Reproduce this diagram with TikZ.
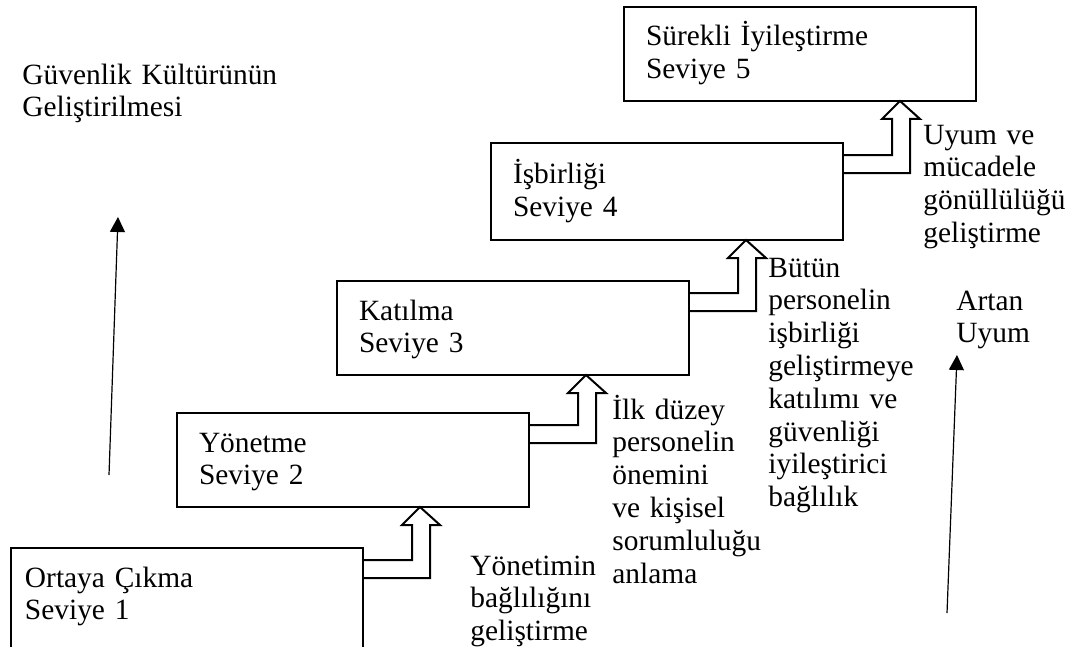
\documentclass[tikz,border=0pt]{standalone}
\usepackage{fontspec}
\setmainfont{Liberation Serif}
\usetikzlibrary{arrows.meta,calc}

\begin{document}
\begin{tikzpicture}[x=0.5pt, y=-0.5pt,
		font=\fontsize{14.7pt}{16.4pt}\selectfont,
		stage/.style={draw, line width=1pt, rectangle, anchor=north west, outer sep=0pt,
			minimum width=176pt, minimum height=47pt, inner xsep=11pt, inner ysep=0pt,
			text width=154pt, align=left, text height=11.5pt, text depth=19.5pt},
		note/.style={anchor=base west, inner sep=0pt, text width=100pt, align=left},
		elbow/.style={line width=1pt},
		rise/.style={line width=0.6pt, -{Triangle[length=7.5pt,width=7.5pt]}}]
		\useasboundingbox (0,0) rectangle (1070,647);
		\node [stage, inner xsep=7pt, text width=162pt, minimum height=50.5pt, text depth=23pt] (s1) at (11,548) {Ortaya Çıkma\\Seviye 1};
		\node [stage] (s2) at (177,413) {Yönetme\\Seviye 2};
		\node [stage] (s3) at (337,281) {Katılma\\Seviye 3};
		\node [stage, minimum height=48.5pt] (s4) at (491,143) {İşbirliği\\Seviye 4};
		\node [stage] (s5) at (624,7) {Sürekli İyileştirme\\Seviye 5};
		\foreach \a/\b in {s1/s2,s2/s3,s3/s4,s4/s5}
			\draw [elbow] let \p1 = (\a.north east), \p2 = (\b.south) in
				(\x1,\y1-6pt) -- ++(24.5pt,0) |- (\x1+19.5pt,\y2-9pt) -- (\x1+28.5pt,\y2)
				-- (\x1+38.5pt,\y2-9pt) -| (\x1+33.5pt,\y1-15pt) -- (\x1,\y1-15pt);
		\node [note] (n1) at (470,575) {Yönetimin\\bağlılığını\\geliştirme};
		\node [note] (n2) at (612,419) {İlk düzey\\personelin\\önemini\\ve kişisel\\sorumluluğu\\anlama};
		\node [note] (n3) at (768,277) {Bütün\\personelin\\işbirliği\\geliştirmeye\\katılımı ve\\güvenliği\\iyileştirici\\bağlılık};
		\node [note] (n4) at (923,144) {Uyum ve\\mücadele\\gönüllülüğü\\geliştirme};
		\node [note, text width=130pt] (culture) at (22,84) {Güvenlik Kültürünün\\Geliştirilmesi};
		\node [note] (gain) at (956,310) {Artan\\Uyum};
		\coordinate (l0) at (109,475);
		\coordinate (l1) at (118,217);
		\coordinate (r0) at (947,613);
		\coordinate (r1) at (957,355);
		\draw [rise] (l0) -- (l1);
		\draw [rise] (r0) -- (r1);
	\end{tikzpicture}
\end{document}
